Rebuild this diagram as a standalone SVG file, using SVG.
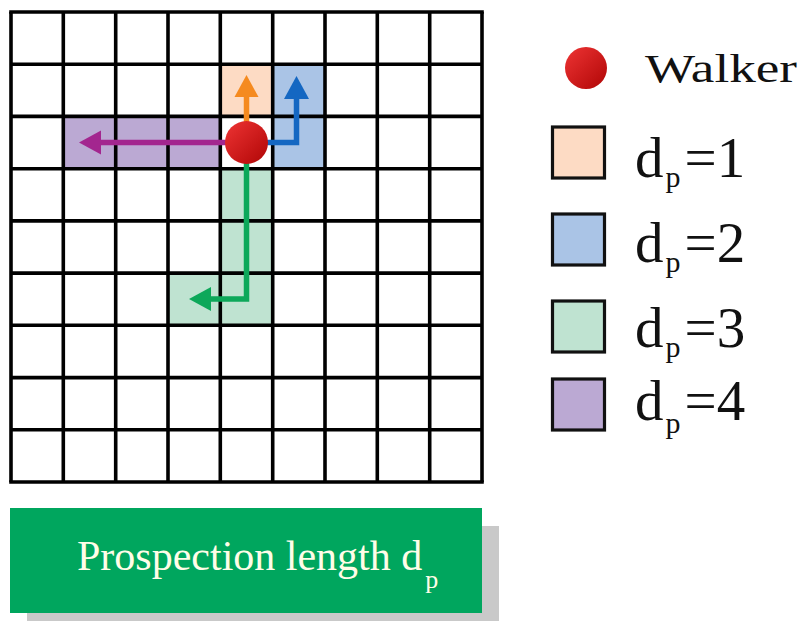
<svg xmlns="http://www.w3.org/2000/svg" width="802" height="621" viewBox="0 0 802 621">
<defs>
<linearGradient id="red" x1="0" y1="0" x2="1" y2="1">
<stop offset="0" stop-color="#EE3434"/>
<stop offset="1" stop-color="#B00606"/>
</linearGradient>
</defs>
<style>
.grid line{stroke:#000;stroke-width:3.6}
.arr{fill:none;stroke-width:5.5;stroke-linejoin:miter}
.leg{stroke:#111;stroke-width:3.2}
.t{font-family:"Liberation Serif","Times New Roman",serif;fill:#111}
.c1{fill:#FDDBC4}.c2{fill:#AAC4E6}.c3{fill:#BFE3D1}.c4{fill:#BBA9D3}
</style>
<rect width="802" height="621" fill="#fff"/>
<g id="cells">
<rect class="c1" x="220.3" y="64.2" width="52.4" height="52.2"/>
<rect class="c2" x="272.7" y="64.2" width="52.3" height="104.5"/>
<rect class="c3" x="220.3" y="168.7" width="52.4" height="156.6"/>
<rect class="c3" x="168" y="273.1" width="52.3" height="52.2"/>
<rect class="c4" x="63.3" y="116.4" width="157" height="52.3"/>
</g>
<g id="grid" class="grid">
<line x1="11" y1="12" x2="11" y2="482"/>
<line x1="63.3" y1="12" x2="63.3" y2="482"/>
<line x1="115.7" y1="12" x2="115.7" y2="482"/>
<line x1="168" y1="12" x2="168" y2="482"/>
<line x1="220.3" y1="12" x2="220.3" y2="482"/>
<line x1="272.7" y1="12" x2="272.7" y2="482"/>
<line x1="325" y1="12" x2="325" y2="482"/>
<line x1="377.3" y1="12" x2="377.3" y2="482"/>
<line x1="429.7" y1="12" x2="429.7" y2="482"/>
<line x1="482" y1="12" x2="482" y2="482"/>
<line x1="9.2" y1="12" x2="483.8" y2="12"/>
<line x1="11" y1="64.2" x2="482" y2="64.2"/>
<line x1="11" y1="116.4" x2="482" y2="116.4"/>
<line x1="11" y1="168.7" x2="482" y2="168.7"/>
<line x1="11" y1="220.9" x2="482" y2="220.9"/>
<line x1="11" y1="273.1" x2="482" y2="273.1"/>
<line x1="11" y1="325.3" x2="482" y2="325.3"/>
<line x1="11" y1="377.6" x2="482" y2="377.6"/>
<line x1="11" y1="429.8" x2="482" y2="429.8"/>
<line x1="9.2" y1="482" x2="483.8" y2="482"/>
</g>
<g id="connectors">
<path class="arr" stroke="#F58A1F" d="M246.5,130 V95"/>
<polygon fill="#F58A1F" points="246.5,75 258.5,97 234.5,97"/>
<path class="arr" stroke="#1467C2" d="M262,142.5 H296.5 V96"/>
<polygon fill="#1467C2" points="296.5,76 309,99 284,99"/>
<path class="arr" stroke="#A3268F" d="M230,142.5 H99"/>
<polygon fill="#A3268F" points="79,142.5 101,130.5 101,154.5"/>
<path class="arr" stroke="#0DA85A" d="M246.5,155 V299 H208"/>
<polygon fill="#0DA85A" points="189,299 211,287 211,311"/>
</g>
<g id="walker">
<circle cx="246.5" cy="142.5" r="21.5" fill="url(#red)"/>
</g>
<g id="legend-walker">
<circle cx="586" cy="68" r="21" fill="url(#red)"/>
<text class="t" x="645" y="82" font-size="41" textLength="152" lengthAdjust="spacingAndGlyphs">Walker</text>
</g>
<g id="legend-1">
<rect class="leg c1" x="552.5" y="127" width="52" height="51"/>
<text class="t" x="635" y="177" font-size="57">d<tspan font-size="30" dx="2" dy="10">p</tspan><tspan dy="-10" dx="4">=1</tspan></text>
</g>
<g id="legend-2">
<rect class="leg c2" x="552.5" y="214" width="52" height="51"/>
<text class="t" x="635" y="262" font-size="57">d<tspan font-size="30" dx="2" dy="10">p</tspan><tspan dy="-10" dx="4">=2</tspan></text>
</g>
<g id="legend-3">
<rect class="leg c3" x="552.5" y="301" width="52" height="51"/>
<text class="t" x="635" y="347" font-size="57">d<tspan font-size="30" dx="2" dy="10">p</tspan><tspan dy="-10" dx="4">=3</tspan></text>
</g>
<g id="legend-4">
<rect class="leg c4" x="552.5" y="379" width="52" height="51"/>
<text class="t" x="635" y="420" font-size="57">d<tspan font-size="30" dx="2" dy="13">p</tspan><tspan dy="-13" dx="4">=4</tspan></text>
</g>
<g id="title">
<rect x="27" y="526" width="472" height="105" fill="#C9C9C9"/>
<rect x="10" y="508" width="472" height="105" fill="#00A65E"/>
<text class="t" x="77" y="570" font-size="42" style="fill:#FFFDE8">Prospection length d<tspan font-size="26" dx="3" dy="18">p</tspan></text>
</g>
</svg>
